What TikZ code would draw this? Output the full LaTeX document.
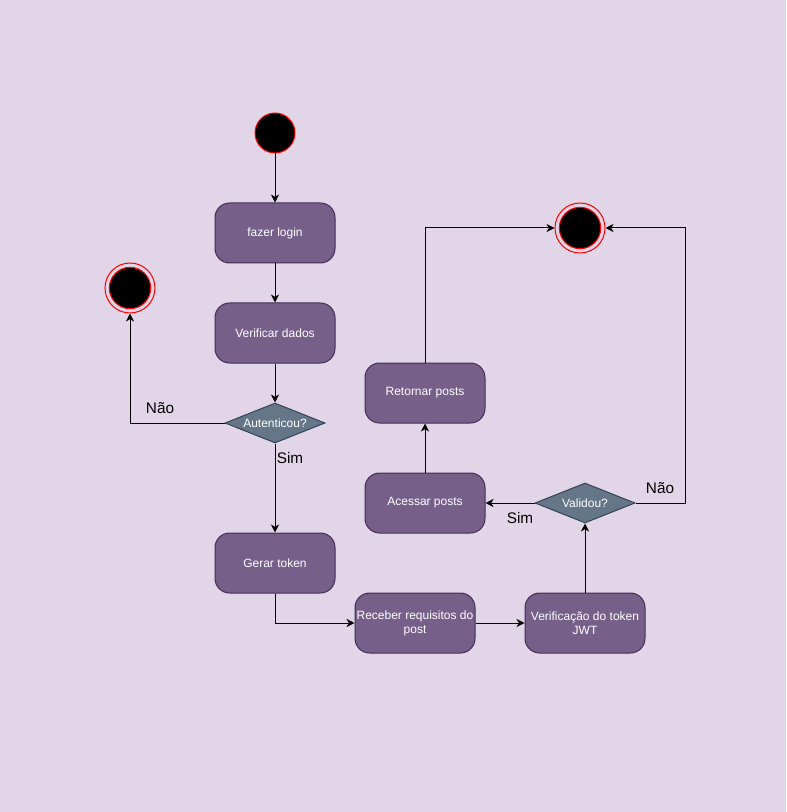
\documentclass[tikz,border=0pt]{standalone}
\usepackage{fontspec}
\setmainfont{Liberation Sans}
\usetikzlibrary{shapes.geometric,arrows.meta}
\definecolor{fundo}{HTML}{E1D5E7}
\definecolor{caixa}{HTML}{76608A}
\definecolor{caixaborda}{HTML}{432D57}
\definecolor{losango}{HTML}{647687}
\definecolor{losangoborda}{HTML}{314354}

\begin{document}
\begin{tikzpicture}[x=0.75pt, y=-0.75pt, line width=0.75pt, >={Stealth[length=6pt,width=6pt,inset=1.8pt]},
    acao/.style={draw=caixaborda, fill=caixa, rounded corners=11pt, minimum width=90pt, minimum height=45pt, inner sep=1pt, text=white, align=center, font=\fontsize{9}{10.5}\selectfont},
    decisao/.style={diamond, draw=losangoborda, fill=losango, aspect=2.5, minimum width=75pt, minimum height=30pt, inner sep=0pt, text=white, font=\fontsize{9}{10.5}\selectfont},
    inicio/.style={circle, draw=red, fill=black, minimum size=30pt, inner sep=0pt},
    fim/.style={circle, draw=red, minimum size=37.5pt, inner sep=0pt,
        path picture={\fill[black, draw=red] (path picture bounding box.center) circle (15.5pt);}},
    rotulo/.style={font=\fontsize{11.5}{13}\selectfont}]
    \useasboundingbox[fill=fundo] (0,0) rectangle (786,812);
    % nos
    \node[inicio] (ini) at (275,133) {};
    \node[acao] (login) at (275,233) {fazer login};
    \node[acao] (verif) at (275,333) {Verificar dados};
    \node[decisao] (aut) at (275,423) {Autenticou?};
    \node[fim] (fim1) at (130,288) {};
    \node[acao] (gerar) at (275,563) {Gerar token};
    \node[acao] (receber) at (415,623) {Receber requisitos do\\post};
    \node[acao] (jwt) at (585,623) {Verificação do token\\JWT};
    \node[decisao] (valid) at (585,503) {Validou?};
    \node[acao] (acessar) at (425,503) {Acessar posts};
    \node[acao] (retornar) at (425,393) {Retornar posts};
    \node[fim] (fim2) at (580,228) {};
    \coordinate (canto) at (685,228);
    % rotulos
    \node[rotulo] (nao1) at (160,408) {Não};
    \node[rotulo] (sim1) at (290,458) {Sim};
    \node[rotulo] (nao2) at (660,488) {Não};
    \node[rotulo] (sim2) at (520,518) {Sim};
    % ligacoes
    \draw[->] (ini) -- (login);
    \draw[->] (login) -- (verif);
    \draw[->] (verif) -- (aut);
    \draw[->] (aut) -| (fim1);
    \draw[->] (aut) -- (gerar);
    \draw[->] (gerar) |- (receber);
    \draw[->] (receber) -- (jwt);
    \draw[->] (jwt) -- (valid);
    \draw[->] (valid) -- (acessar);
    \draw[->] (acessar) -- (retornar);
    \draw[->] (retornar) |- (fim2);
    \draw[->] (valid.east) -| (canto) -- (fim2);
\end{tikzpicture}
\end{document}
